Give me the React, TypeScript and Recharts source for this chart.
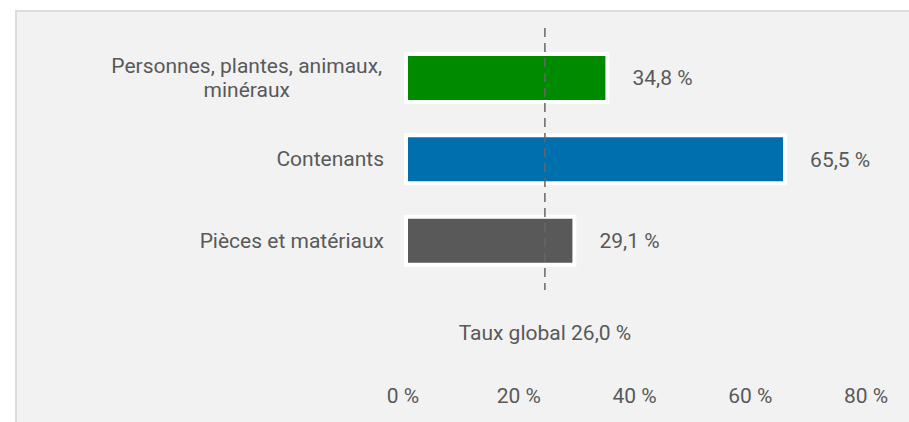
import { BarChart, Bar, XAxis, YAxis, Cell, LabelList, ReferenceLine } from "recharts"

const categories = ["Personnes, plantes, animaux, minéraux", "Contenants", "Pièces et matériaux"]
const rates = [34.8, 65.5, 29.1]
const barColors = ["#008a00", "#006fad", "#595959"]
const xTicks = [0, 20, 40, 60, 80]
const globalRateLabel = "Taux global 26,0 %"
// where the dashed line sits on the axis in the picture
const globalRatePos = 24

const data = categories.map((name, i) => ({ name, rate: rates[i] }))

const TEXT = "#595959"
const FONT = "Roboto, sans-serif"
const FS = 21

const fmt = (v: number) => `${v.toFixed(1).replace(".", ",")} %`

function wrap(s: string, max = 28) {
  const lines: string[] = []
  let cur = ""
  for (const w of s.split(" ")) {
    const next = cur ? cur + " " + w : w
    if (next.length > max && cur) {
      lines.push(cur)
      cur = w
    } else cur = next
  }
  if (cur) lines.push(cur)
  return lines
}

function CategoryTick({ x, y, payload }: any) {
  const lines = wrap(payload.value)
  if (lines.length === 1) {
    return (
      <text x={x} y={y} dy="0.35em" textAnchor="end" fill={TEXT} fontSize={FS} fontFamily={FONT}>
        {lines[0]}
      </text>
    )
  }
  const longest = Math.max(...lines.map((l) => l.length))
  const cx = x - longest * 4.9
  return (
    <text x={cx} y={y} textAnchor="middle" fill={TEXT} fontSize={FS} fontFamily={FONT}>
      {lines.map((l, i) => (
        <tspan key={i} x={cx} dy={i === 0 ? `${0.35 - (lines.length - 1) * 0.58}em` : "1.16em"}>
          {l}
        </tspan>
      ))}
    </text>
  )
}

function PctTick({ x, y, payload }: any) {
  return (
    <text x={x - 3} y={y + 107} dy="0.35em" textAnchor="middle" fill={TEXT} fontSize={FS} fontFamily={FONT}>
      {`${payload.value} %`}
    </text>
  )
}

function GlobalLine({ x1, y1, x2, y2 }: any) {
  const top = Math.min(y1, y2)
  const bottom = Math.max(y1, y2)
  return (
    <g>
      <line x1={x1} y1={top - 9} x2={x2} y2={bottom + 9} stroke="#666" strokeWidth={1.5} strokeDasharray="9 6" />
      <text x={x1} y={bottom + 52} dy="0.35em" textAnchor="middle" fill={TEXT} fontSize={FS} fontFamily={FONT}>
        {globalRateLabel}
      </text>
    </g>
  )
}

export default function App() {
  return (
    <div
      style={{
        position: "absolute",
        left: 15,
        top: 10,
        width: 894,
        height: 412,
        boxSizing: "border-box",
        background: "#f2f2f2",
        borderLeft: "2px solid #dcdcdc",
        borderTop: "2px solid #dcdcdc",
      }}
    >
      <BarChart
        width={892}
        height={410}
        data={data}
        layout="vertical"
        margin={{ top: 25, right: 40, left: 0, bottom: 21 }}
      >
        <XAxis
          type="number"
          domain={[0, 80]}
          ticks={xTicks}
          axisLine={false}
          tickLine={false}
          height={120}
          tick={<PctTick />}
        />
        <YAxis
          type="category"
          dataKey="name"
          width={389}
          axisLine={false}
          tickLine={false}
          tick={<CategoryTick />}
          tickMargin={16}
        />
        <Bar dataKey="rate" barSize={48} stroke="#fff" strokeWidth={4} isAnimationActive={false}>
          {data.map((d, i) => (
            <Cell key={d.name} fill={barColors[i]} />
          ))}
          <LabelList
            dataKey="rate"
            position="right"
            offset={25}
            formatter={(v: any) => fmt(Number(v))}
            fill={TEXT}
            fontSize={FS}
            fontFamily={FONT}
          />
        </Bar>
        <ReferenceLine x={globalRatePos} shape={<GlobalLine />} />
      </BarChart>
    </div>
  )
}
